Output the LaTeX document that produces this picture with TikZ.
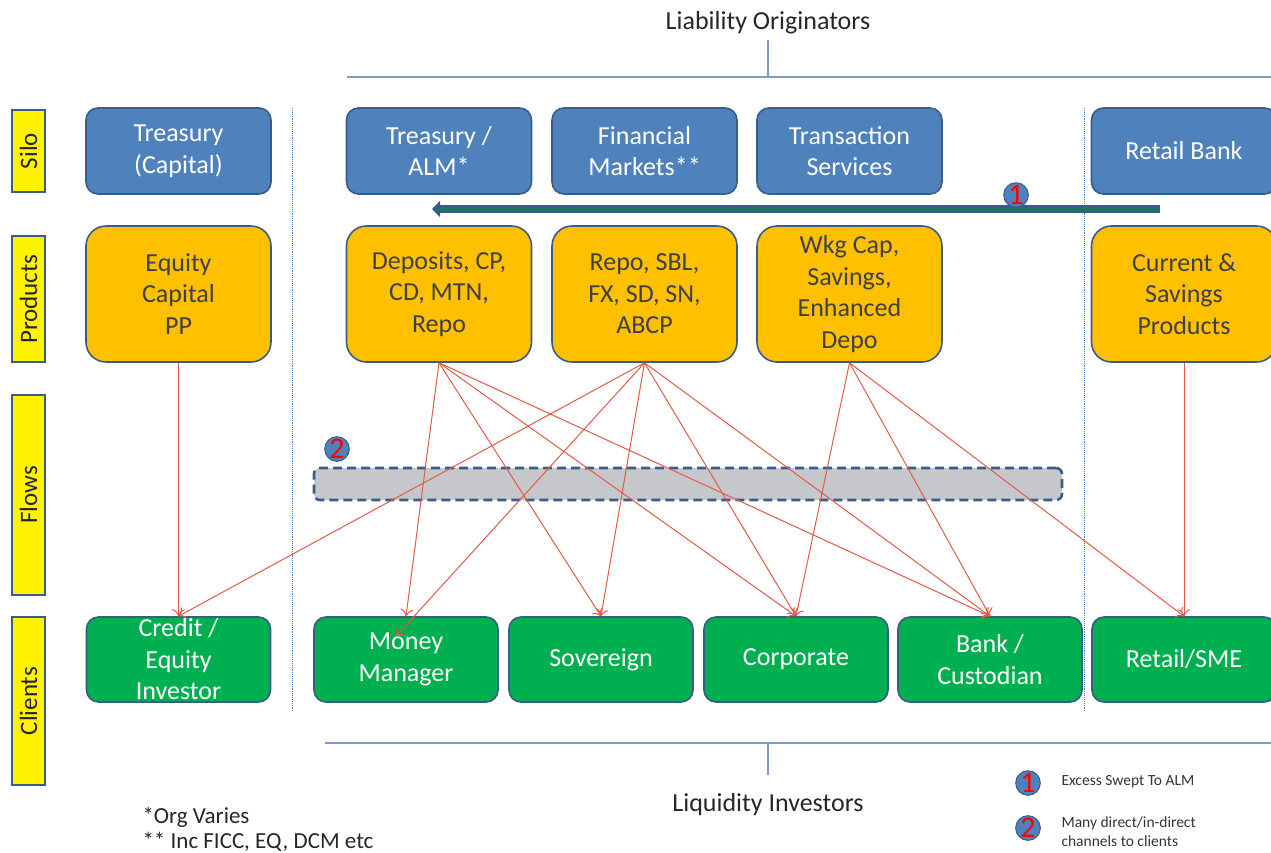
\documentclass[tikz,border=0pt]{standalone}
\usepackage{fontspec}
\setmainfont{Carlito}
\usetikzlibrary{arrows.meta}
\definecolor{siloblue}{HTML}{4F81BD}
\definecolor{edgeblue}{HTML}{385D8A}
\definecolor{prodorange}{HTML}{FFC000}
\definecolor{clientgreen}{HTML}{00B050}
\definecolor{flowred}{HTML}{E5584A}
\definecolor{sweepgreen}{HTML}{1E7460}
\definecolor{textgray}{HTML}{404040}
\definecolor{flowgray}{HTML}{C6C7CA}
\definecolor{bracketblue}{HTML}{7D9BC6}

\begin{document}
\begin{tikzpicture}[x=1pt,y=-1pt]
  \clip (0,0) rectangle (1271,852);
  \tikzstyle{BoxStyle}=[draw=edgeblue,line width=1.6pt,inner sep=0pt,align=center,font=\fontsize{26}{31.5}\selectfont]
  \tikzstyle{SiloStyle}=[BoxStyle,fill=siloblue,text=white,rounded corners=12pt,minimum width=185pt,minimum height=86pt]
  \tikzstyle{ProductStyle}=[BoxStyle,fill=prodorange,text=textgray,rounded corners=20pt,minimum width=185pt,minimum height=136pt]
  \tikzstyle{ClientStyle}=[BoxStyle,fill=clientgreen,text=white,rounded corners=12pt,minimum width=184pt,minimum height=85pt]
  \tikzstyle{SideStyle}=[draw=edgeblue,line width=1.4pt,fill=yellow,minimum height=33pt,inner sep=0pt,rotate=90,font=\fontsize{25}{27}\selectfont,text=black!85]
  \tikzstyle{BadgeStyle}=[circle,draw=edgeblue,line width=1pt,fill=siloblue,minimum size=22pt,inner sep=0pt,text=red,font=\fontsize{30}{30}\selectfont]
  \tikzstyle{EdgeStyle}=[draw=flowred,line width=1pt,-{To[length=7pt,width=13pt]}]
  \tikzstyle{SepStyle}=[draw=siloblue,densely dotted,line width=0.9pt]

  % headings and brackets
  \node[font=\fontsize{26}{28}\selectfont,text=black!85] (LO) at (768,23) {Liability Originators};
  \node[font=\fontsize{26}{28}\selectfont,text=black!85] (LI) at (768,805) {Liquidity Investors};
  \coordinate (TL) at (347,77);
  \coordinate (TR) at (1271,77);
  \coordinate (TT) at (768,40);
  \coordinate (TM) at (768,77);
  \coordinate (BL) at (325,743);
  \coordinate (BR) at (1271,743);
  \coordinate (BT) at (768,775);
  \coordinate (BM) at (768,743);
  \draw[bracketblue,line width=1.8pt] (TL) -- (TR) (TM) -- (TT);
  \draw[bracketblue,line width=1.8pt] (BL) -- (BR) (BM) -- (BT);

  % side labels
  \node[SideStyle,minimum width=82pt] (S1) at (28.5,151) {Silo};
  \node[SideStyle,minimum width=126pt] (S2) at (28.5,299) {Products};
  \node[SideStyle,minimum width=200pt] (S3) at (28.5,495) {Flows};
  \node[SideStyle,minimum width=168pt] (S4) at (28.5,701) {Clients};

  % separators
  \coordinate (D1a) at (292,108);
  \coordinate (D1b) at (292,712);
  \coordinate (D2a) at (1084,108);
  \coordinate (D2b) at (1084,712);
  \draw[SepStyle] (D1a) -- (D1b);
  \draw[SepStyle] (D2a) -- (D2b);

  % silo
  \node[SiloStyle] (TC) at (178.5,151) {Treasury\\(Capital)};
  \node[SiloStyle] (ALM) at (439,151) {Treasury /\\ALM*};
  \node[SiloStyle] (FM) at (644.5,151) {Financial\\Markets**};
  \node[SiloStyle] (TS) at (849.5,151) {Transaction\\Services};
  \node[SiloStyle] (RB) at (1184,151) {Retail Bank};

  % products
  \node[ProductStyle] (EQ) at (178.5,294) {Equity\\Capital\\PP};
  \node[ProductStyle] (DEP) at (439,294) {Deposits, CP,\\CD, MTN,\\Repo};
  \node[ProductStyle] (REPO) at (644.5,294) {Repo, SBL,\\FX, SD, SN,\\ABCP};
  \node[ProductStyle] (WKG) at (849.5,294) {Wkg Cap,\\Savings,\\Enhanced\\Depo};
  \node[ProductStyle] (CUR) at (1184,294) {Current \&\\Savings\\Products};

  % clients
  \node[ClientStyle] (CEI) at (178.5,659.5) {Credit /\\Equity\\Investor};
  \node[ClientStyle] (MM) at (406,659.5) {Money\\Manager};
  \node[ClientStyle] (SOV) at (601,659.5) {Sovereign};
  \node[ClientStyle] (CORP) at (796,659.5) {Corporate};
  \node[ClientStyle] (BANK) at (990,659.5) {Bank /\\Custodian};
  \node[ClientStyle] (RET) at (1184,659.5) {Retail/SME};

  % flows box
  \node[draw=edgeblue,line width=2.6pt,dash pattern=on 9pt off 5pt,fill=flowgray,rounded corners=6pt,minimum width=748pt,minimum height=32pt] (FLOW) at (688,484) {};
  \node[BadgeStyle] (B2) at (337,449) {2};

  % sweep to ALM
  \coordinate (SW1) at (1160,209);
  \coordinate (SW2) at (432,209);
  \draw[edgeblue,line width=8pt,-{Triangle[length=8pt,width=16pt]}] (SW1) -- (SW2);
  \draw[sweepgreen,line width=4pt,shorten >=6pt] ([xshift=-1.5pt]SW1) -- (SW2);
  \node[BadgeStyle] (B1) at (1016,195) {1};

  % flows products -> clients
  \draw[EdgeStyle] (EQ.south) -- (CEI.north);
  \draw[EdgeStyle] (DEP.south) -- (MM.north);
  \draw[EdgeStyle] (DEP.south) -- (SOV.north);
  \draw[EdgeStyle] (DEP.south) -- (CORP.north);
  \draw[EdgeStyle] (DEP.south) -- (BANK.north);
  \draw[EdgeStyle] (REPO.south) -- (CEI.north);
  \draw[EdgeStyle] (REPO.south) -- ([xshift=-10pt,yshift=-20pt]MM.north);
  \draw[EdgeStyle] (REPO.south) -- (SOV.north);
  \draw[EdgeStyle] (REPO.south) -- (CORP.north);
  \draw[EdgeStyle] (REPO.south) -- (BANK.north);
  \draw[EdgeStyle] (WKG.south) -- (CORP.north);
  \draw[EdgeStyle] (WKG.south) -- (BANK.north);
  \draw[EdgeStyle] (WKG.south) -- (RET.north);
  \draw[EdgeStyle] (CUR.south) -- (RET.north);

  % legend and notes
  \node[BadgeStyle] (L1) at (1028,783) {1};
  \node[BadgeStyle] (L2) at (1028,828) {2};
  \node[anchor=west,font=\fontsize{15.5}{19}\selectfont,text=black!80] (LT1) at (1058,782) {Excess Swept To ALM};
  \node[anchor=west,align=left,font=\fontsize{15.5}{19}\selectfont,text=black!80] (LT2) at (1058,832) {Many direct/in-direct\\channels to clients};
  \node[anchor=west,align=left,font=\fontsize{23}{25}\selectfont,text=black!85] (NOTE) at (139,829) {*Org Varies\\** Inc FICC, EQ, DCM etc};
\end{tikzpicture}
\end{document}
